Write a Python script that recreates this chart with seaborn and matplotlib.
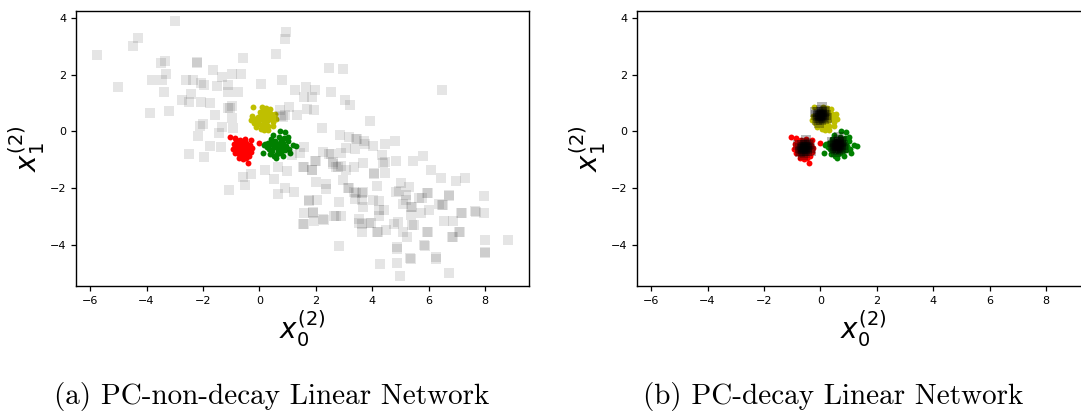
import matplotlib
matplotlib.use("Agg")
import matplotlib.pyplot as plt
import seaborn as sns
import pandas as pd

# ---- data ----
# gray squares (left panel, PC-non-decay)
gray_x = [-2.99, 0.94, 0.91, -4.31, -4.48, -5.76, 0.58, -0.58, -3.36, -3.50, -2.23, -2.23, 2.48, 2.96,
          -1.66, -3.30, -1.31, -0.98, -0.67, -3.81, -3.45, -2.60, -2.34, -2.06, -1.95, -1.51, -1.11,
          0.06, 0.79, -5.00, -3.37, -2.42, -1.13, -0.76, 1.25, 1.64, 1.97, 1.57, 1.85, 2.53, 6.47,
          -2.75, -2.50, -2.08, -1.77, 3.04, 3.21, -3.88, -3.21, -1.12, -0.99, -1.05, -1.58, -0.98,
          1.06, 0.72, 0.90, 1.33, 1.68, 1.92, 0.83, 0.78, 3.92, -2.00, -2.10, -1.31, -0.94, 2.21,
          -2.18, -1.44, -1.77, -1.37, -2.49, -1.97, 2.87, 3.16, 3.42, 3.70, 4.01, 4.44, 4.81, 1.59,
          1.42, 1.16, 3.07, 3.40, 2.24, 2.54, 2.89, 4.34, 4.37, 4.45, 4.84, 5.78, 5.43, 1.97, 2.00,
          1.57, 1.85, 2.60, 2.71, 2.89, 3.07, 3.36, 3.66, 4.07, 4.44, 6.09, 6.44, 6.96, 7.29, 0.21,
          -0.30, -0.59, -0.52, -1.09, 0.50, 0.67, 0.99, 2.00, 2.34, 2.34, 0.92, 1.22, 0.65, 2.97,
          3.16, 3.12, 3.42, 3.66, 4.15, 5.01, 4.96, 5.19, 5.96, 5.95, 5.75, 6.70, 7.94, 1.77, 1.76,
          2.03, 2.81, 3.39, 3.63, 3.66, 4.01, 4.25, 4.40, 4.22, 5.07, 5.39, 5.72, 6.02, 6.37, 6.49,
          6.45, 7.65, 7.94, 7.17, 1.57, 1.89, 1.59, 1.56, 1.92, 2.30, 2.71, 2.89, 3.53, 3.65, 3.94,
          4.20, 4.18, 4.48, 4.90, 4.78, 5.07, 5.22, 5.39, 5.96, 6.55, 6.86, 6.84, 7.10, 7.99, 8.79,
          2.81, 4.86, 4.86, 5.85, 5.83, 5.33, 5.36, 6.25, 6.25, 7.98, 7.98, 4.26, 4.86, 4.98, 6.73,
          5.36, 5.19, 2.45, 2.59, 2.80, 3.63, 3.36, 3.63, 3.53, 3.89, 5.46, 5.95, 6.83, 7.07, 4.83,
          5.30, 5.37, 5.66, 6.70, 7.13, 7.66, 2.26, 2.65, 1.88, 4.24, 4.06, 3.44, 3.75, 1.55, 1.86]
gray_y = [3.88, 3.50, 3.28, 3.29, 3.00, 2.71, 2.75, 2.60, 2.48, 2.40, 2.45, 2.40, 2.25, 2.22,
          2.18, 2.04, 1.92, 2.04, 2.02, 1.83, 1.81, 1.83, 1.82, 1.71, 1.65, 1.62, 1.65,
          1.69, 1.81, 1.57, 1.40, 1.31, 1.38, 1.40, 1.46, 1.56, 1.47, 1.22, 1.22, 1.40, 1.47,
          1.11, 1.05, 1.05, 1.00, 1.12, 0.94, 0.65, 0.71, 0.83, 0.90, 0.84, 0.57, 0.47,
          0.86, 0.77, 0.59, 0.59, 0.81, 0.76, 0.51, 0.55, 0.38, 0.25, 0.21, 0.15, 0.12, 0.13,
          -0.15, -0.06, -0.50, -0.54, -0.78, -0.91, -0.12, -0.21, -0.27, -0.35, -0.50, -0.45, -0.35, -0.53,
          -0.77, -0.83, -0.57, -0.63, -0.74, -0.79, -0.77, -0.83, -1.10, -1.07, -1.04, -0.88, -1.03, -1.05, -1.03,
          -1.27, -1.36, -1.06, -1.27, -1.22, -1.36, -1.24, -1.12, -1.47, -1.45, -1.36, -1.65, -1.75, -1.63, -1.36,
          -1.50, -1.62, -1.90, -2.08, -1.69, -1.24, -1.39, -1.77, -1.85, -2.04, -2.00, -2.12, -2.20, -1.71,
          -2.00, -2.01, -2.18, -2.12, -1.92, -1.80, -2.09, -2.24, -2.16, -2.16, -2.34, -2.27, -2.28, -2.44, -2.42,
          -2.40, -2.50, -2.38, -2.42, -2.65, -2.42, -2.45, -2.77, -2.97, -2.54, -2.65, -2.87, -2.77, -2.54, -2.60,
          -2.60, -2.81, -2.86, -2.89, -2.89, -2.86, -3.28, -3.25, -3.16, -3.13, -2.97, -2.99, -3.07, -3.27, -3.22,
          -3.54, -3.54, -3.48, -3.19, -3.27, -3.54, -3.72, -3.30, -3.56, -3.16, -3.15, -3.72, -3.56, -3.81, -3.83,
          -4.04, -4.13, -4.09, -4.04, -4.01, -4.46, -4.48, -4.48, -4.42, -4.28, -4.25, -4.66, -4.63, -5.10, -4.99,
          -2.95, -2.40, -0.80, -1.13, -1.27, -2.18, -2.13, -3.54, -3.24, -3.24, -3.30, -3.54, -3.71, -3.54, -2.13,
          -1.97, -2.68, -2.36, -2.24, -2.89, -2.83, -3.10, -2.98, -2.83, -2.77, -1.50, -0.28, -0.44, -1.27, -1.36]

# gray squares (right panel, PC-decay): collapsed around the three class centres
decay_x = [0.02, 0.07, -0.03, 0.09, -0.05, 0.12, -0.08, 0.04, 0.00, 0.14, -0.10, 0.12, -0.08, 0.20, -0.16,
           0.02, 0.02, 0.17, -0.13, 0.24, -0.20, 0.07, -0.04, 0.05, -0.01,
           -0.56, -0.51, -0.61, -0.49, -0.63, -0.46, -0.66, -0.54, -0.58, -0.44, -0.68, -0.46, -0.66, -0.38, -0.74,
           -0.56, -0.56, -0.41, -0.71, -0.34, -0.78, -0.51, -0.62, -0.53, -0.59,
           0.62, 0.67, 0.57, 0.69, 0.55, 0.72, 0.52, 0.64, 0.60, 0.74, 0.50, 0.72, 0.52, 0.80, 0.44,
           0.62, 0.62, 0.77, 0.47, 0.84, 0.40, 0.67, 0.56, 0.65, 0.59]
decay_y = [0.57, 0.61, 0.53, 0.52, 0.62, 0.59, 0.55, 0.67, 0.47, 0.67, 0.47, 0.45, 0.69, 0.57, 0.57,
           0.75, 0.39, 0.72, 0.42, 0.47, 0.67, 0.85, 0.31, 0.55, 0.59,
           -0.58, -0.54, -0.62, -0.63, -0.53, -0.56, -0.60, -0.48, -0.68, -0.48, -0.68, -0.70, -0.46, -0.58, -0.58,
           -0.40, -0.76, -0.43, -0.73, -0.68, -0.48, -0.30, -0.84, -0.60, -0.56,
           -0.48, -0.44, -0.52, -0.53, -0.43, -0.46, -0.50, -0.38, -0.58, -0.38, -0.58, -0.60, -0.36, -0.48, -0.48,
           -0.30, -0.66, -0.33, -0.63, -0.58, -0.38, -0.20, -0.74, -0.50, -0.46]

# coloured class clusters (same in both panels)
red_x = [-0.60, -0.50, -0.70, -0.55, -0.65, -0.45, -0.75, -0.40, -0.80, -0.58, -0.62, -0.35, -0.85, -0.48,
         -0.72, -0.52, -0.68, -0.30, -0.90, -0.42, -0.78, -0.55, -0.63, -0.57, -0.67, -0.33, -0.88, -0.46,
         -0.74, -0.60, -0.38, -0.82, -0.50, -0.95, -0.28, -1.04, -0.02, -0.40, -0.85, -0.30]
red_y = [-0.60, -0.55, -0.65, -0.75, -0.45, -0.68, -0.52, -0.50, -0.70, -0.35, -0.85, -0.62, -0.55, -0.40,
         -0.80, -0.90, -0.30, -0.72, -0.45, -0.82, -0.38, -0.62, -0.58, -0.48, -0.72, -0.48, -0.75, -0.95,
         -0.92, -0.98, -0.88, -0.30, -0.28, -0.62, -0.58, -0.20, -0.41, -1.12, -0.22, -0.30]
yel_x = [0.10, 0.20, 0.00, 0.15, 0.05, 0.25, -0.05, 0.30, -0.10, 0.18, 0.08, 0.35, -0.15, 0.12, 0.40,
         -0.20, 0.22, 0.45, -0.25, 0.02, 0.28, 0.50, 0.55, 0.48, -0.30, 0.05, 0.15, 0.32, -0.12, 0.38,
         0.08, -0.02, 0.22, 0.60, 0.10, 0.16, -0.24, 0.53, 0.49, 0.30]
yel_y = [0.45, 0.50, 0.40, 0.30, 0.60, 0.38, 0.50, 0.55, 0.35, 0.65, 0.20, 0.45, 0.45, 0.75, 0.62,
         0.30, 0.15, 0.50, 0.55, 0.70, 0.72, 0.58, 0.62, 0.35, 0.40, 0.08, 0.05, 0.20, 0.15, 0.80,
         0.85, 0.25, 0.82, 0.45, 0.55, 0.42, 0.86, 0.59, 0.20, 0.05]
grn_x = [0.60, 0.70, 0.50, 0.65, 0.55, 0.80, 0.40, 0.75, 0.45, 0.85, 0.35, 0.62, 0.90, 0.30, 0.68,
         0.52, 0.95, 0.25, 0.78, 0.42, 1.00, 0.58, 0.66, 0.72, 0.48, 0.88, 0.82, 0.20, 0.38, 1.05,
         1.30, 1.20, 0.73, 0.90, 1.02, 0.12, 0.47, 0.58, 0.15, 1.08]
grn_y = [-0.50, -0.45, -0.55, -0.65, -0.35, -0.55, -0.45, -0.30, -0.70, -0.40, -0.60, -0.80, -0.65, -0.40, -0.20,
         -0.85, -0.50, -0.55, -0.75, -0.25, -0.35, -0.42, -0.58, -0.62, -0.48, -0.22, -0.85, -0.45, -0.80, -0.60,
         -0.50, -0.48, 0.00, -0.02, -0.18, -0.77, -0.12, -0.95, -0.48, -0.75]

x_ticks = [-6, -4, -2, 0, 2, 4, 6, 8]
y_ticks = [-4, -2, 0, 2, 4]
captions = ["(a) PC-non-decay Linear Network", "(b) PC-decay Linear Network"]

W, H = 1081, 412
fig = plt.figure(figsize=(W / 100, H / 100), dpi=100)
ax1 = fig.add_axes([76 / W, 126 / H, 453 / W, 275 / H])
ax2 = fig.add_axes([637 / W, 126 / H, 453 / W, 275 / H])

clusters = [(red_x, red_y, "red"), (grn_x, grn_y, "green"), (yel_x, yel_y, "#bfbf00")]

for ax, gx, gy, alpha in [(ax1, gray_x, gray_y, 0.1), (ax2, decay_x, decay_y, 0.28)]:
    for cx, cy, col in clusters:
        sns.scatterplot(x=cx, y=cy, ax=ax, color=col, s=18, linewidth=0, marker="o", zorder=2)
    sns.scatterplot(x=gx, y=gy, ax=ax, color="black", alpha=alpha, s=58, linewidth=0,
                    marker="s", zorder=3)
    ax.set_xlim(-6.5, 9.55)
    ax.set_ylim(-5.45, 4.25)
    ax.set_xticks(x_ticks)
    ax.set_yticks(y_ticks)
    ax.tick_params(labelsize=8, length=3.5, width=0.9)
    ax.set_xlabel(r"$x_0^{(2)}$", fontsize=20, labelpad=2)
    ax.set_ylabel(r"$x_1^{(2)}$", fontsize=20, labelpad=2)
    for sp in ax.spines.values():
        sp.set_linewidth(1.0)

fig.text(272 / W, 1 - 404 / H, captions[0], ha="center", va="baseline",
         fontsize=21, family="cmr10")
fig.text(833 / W, 1 - 404 / H, captions[1], ha="center", va="baseline",
         fontsize=21, family="cmr10")

fig.savefig("out.png", dpi=100)
